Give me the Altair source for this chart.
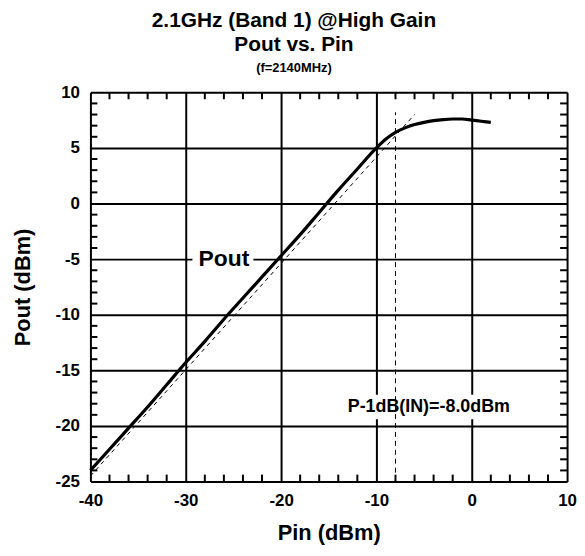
import altair as alt
import pandas as pd

# ---- data ----
pin = [-40, -38, -36, -34, -32, -30, -28, -26, -24, -22, -20, -18, -16, -14, -12,
       -10, -9, -8, -7, -6, -5, -4, -3, -2, -1, 0, 1, 2]
pout = [-24.0, -22.1, -20.2, -18.3, -16.3, -14.3, -12.4, -10.4, -8.5, -6.6, -4.7,
        -2.8, -0.8, 1.2, 3.1, 5.0, 5.8, 6.4, 6.8, 7.1, 7.3, 7.45, 7.55, 7.6, 7.6,
        7.5, 7.4, 7.3]
lin_pin = [-40, -6]
lin_pout = [-24.5, 8.0]
p1db_pin = -8.0
p1db_top = 8.2
x_major = [-40, -30, -20, -10, 0, 10]
y_major = [-25, -20, -15, -10, -5, 0, 5, 10]
x_minor = [-38, -36, -34, -32, -28, -26, -24, -22, -18, -16, -14, -12,
           -8, -6, -4, -2, 2, 4, 6, 8]
y_minor = [-24, -23, -22, -21, -19, -18, -17, -16, -14, -13, -12, -11,
           -9, -8, -7, -6, -4, -3, -2, -1, 1, 2, 3, 4, 6, 7, 8, 9]

FONT = "Liberation Sans"
W, H = 480, 392
MINUS = "\u2212"
TL = 7  # minor tick length, px (pointing into the plot)

xs = alt.Scale(domain=[-40, 10], nice=False, zero=False)
ys = alt.Scale(domain=[-25, 10], nice=False, zero=False)

curve_df = pd.DataFrame({"pin": pin, "pout": pout})
lin_df = pd.DataFrame({"pin": lin_pin, "pout": lin_pout})
vline_df = pd.DataFrame({"pin": [p1db_pin, p1db_pin], "pout": [-25, p1db_top]})
xmin_df = pd.DataFrame({"xv": x_minor})
ymin_df = pd.DataFrame({"yv": y_minor})

lab_expr = f"replace(datum.label, '{MINUS}', '-')"
common = dict(labelFont=FONT, labelFontSize=17, labelFontWeight="bold",
              labelColor="black", titleFont=FONT, titleFontSize=22,
              titleFontWeight="bold", titleColor="black")
xaxis = alt.Axis(values=x_major, grid=True, gridColor="black", gridWidth=2,
                 gridOpacity=1, domain=False, ticks=False, labelPadding=11,
                 labelExpr=lab_expr, title="Pin (dBm)", titlePadding=14,
                 labelFlush=False, orient="bottom", **common)
yaxis = alt.Axis(values=y_major, grid=True, gridColor="black", gridWidth=2,
                 gridOpacity=1, domain=False, ticks=False, labelPadding=11,
                 labelExpr=lab_expr, title="Pout (dBm)", titlePadding=21,
                 labelFlush=False, orient="left", **common)

base = alt.Chart(curve_df).mark_line(strokeWidth=3.2, color="black",
                                       interpolate="monotone").encode(
    x=alt.X("pin:Q", scale=xs, axis=xaxis),
    y=alt.Y("pout:Q", scale=ys, axis=yaxis),
)

lin = alt.Chart(lin_df).mark_line(strokeWidth=1, color="black",
                                    strokeDash=[4, 4]).encode(
    x=alt.X("pin:Q", scale=xs, axis=None), y=alt.Y("pout:Q", scale=ys, axis=None))
vline = alt.Chart(vline_df).mark_line(strokeWidth=1, color="black",
                                        strokeDash=[5, 4]).encode(
    x=alt.X("pin:Q", scale=xs, axis=None), y=alt.Y("pout:Q", scale=ys, axis=None))

xt_bot = alt.Chart(xmin_df).mark_rule(color="black", strokeWidth=2).encode(
    x=alt.X("xv:Q", scale=xs, axis=None), y=alt.value(H), y2=alt.value(H - TL))
xt_top = alt.Chart(xmin_df).mark_rule(color="black", strokeWidth=2).encode(
    x=alt.X("xv:Q", scale=xs, axis=None), y=alt.value(0), y2=alt.value(TL))
yt_left = alt.Chart(ymin_df).mark_rule(color="black", strokeWidth=2).encode(
    y=alt.Y("yv:Q", scale=ys, axis=None), x=alt.value(0), x2=alt.value(TL))
yt_right = alt.Chart(ymin_df).mark_rule(color="black", strokeWidth=2).encode(
    y=alt.Y("yv:Q", scale=ys, axis=None), x=alt.value(W), x2=alt.value(W - TL))

lab_df = pd.DataFrame({
    "x": [-26.0, -4.5], "y": [-5.0, -18.3],
    "x1": [-29.3, -13.6], "x2": [-22.9, 4.6],
    "y1": [-6.1, -19.4], "y2": [-3.9, -17.2],
    "t": ["Pout", "P-1dB(IN)=-8.0dBm"],
})
bg = alt.Chart(lab_df).mark_rect(color="white").encode(
    x=alt.X("x1:Q", scale=xs, axis=None), x2="x2:Q",
    y=alt.Y("y1:Q", scale=ys, axis=None), y2="y2:Q")
txt1 = alt.Chart(lab_df.iloc[[0]]).mark_text(
    font=FONT, fontWeight="bold", fontSize=23, color="black").encode(
    x=alt.X("x:Q", scale=xs, axis=None), y=alt.Y("y:Q", scale=ys, axis=None),
    text="t:N")
txt2 = alt.Chart(lab_df.iloc[[1]]).mark_text(
    font=FONT, fontWeight="bold", fontSize=18, color="black").encode(
    x=alt.X("x:Q", scale=xs, axis=None), y=alt.Y("y:Q", scale=ys, axis=None),
    text="t:N")

chart = alt.layer(base, bg, lin, vline, xt_bot, xt_top, yt_left, yt_right,
                  txt1, txt2).resolve_axis(x="independent", y="independent").properties(
    width=W, height=H,
    title=alt.TitleParams(
        text=["2.1GHz (Band 1) @High Gain", "Pout vs. Pin"],
        subtitle="(f=2140MHz)", font=FONT, fontSize=21, fontWeight="bold",
        color="black", subtitleFont=FONT, subtitleFontSize=13,
        subtitleFontWeight="bold", subtitleColor="black", anchor="middle",
        frame="bounds", lineHeight=24, subtitlePadding=8, offset=8),
    padding={"left": 3, "top": 0, "right": 0, "bottom": 0},
).configure_view(stroke="black", strokeWidth=3).configure(background="white")

chart.save("out.html", embed_options={"renderer": "svg", "actions": False})
